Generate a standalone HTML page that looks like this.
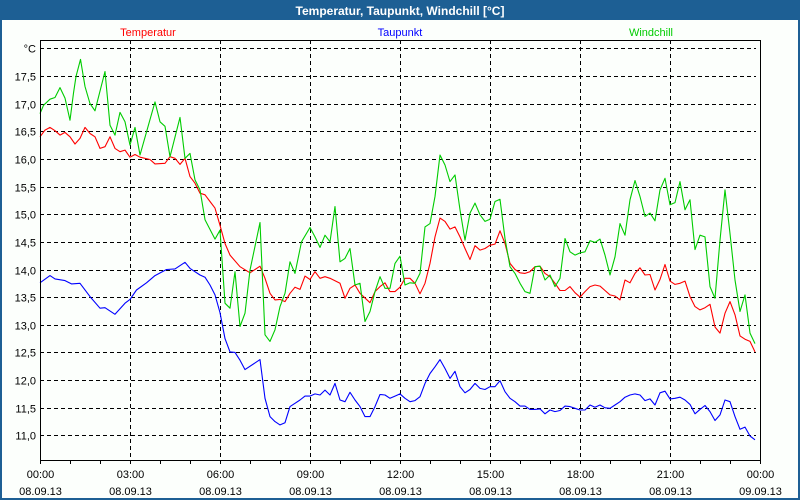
<!DOCTYPE html>
<html><head><meta charset="utf-8"><style>
html,body{margin:0;padding:0;background:#fff;}
#wrap{position:relative;width:800px;height:500px;overflow:hidden;background:#1d5f94;}
#inner{position:absolute;left:2px;top:20px;width:796px;height:478px;background:#fcfffc;}
svg{position:absolute;left:0;top:0;}
text{font-family:"Liberation Sans",sans-serif;}
</style></head><body>
<div id="wrap">
<div id="inner"></div>
<svg id="chart" width="800" height="500">
<text x="400" y="15" text-anchor="middle" font-size="12" font-weight="bold" fill="#fff">Temperatur, Taupunkt, Windchill [°C]</text>
<text x="148" y="36" text-anchor="middle" font-size="11" fill="#f00">Temperatur</text>
<text x="400" y="36" text-anchor="middle" font-size="11" fill="#00f">Taupunkt</text>
<text x="651" y="36" text-anchor="middle" font-size="11" fill="#0c0">Windchill</text>
<g id="grid"></g><g id="series"></g><g id="axes"></g>
</svg>
</div>
<script>
function range(a,b,s){const r=[];for(let v=a;v<=b+1e-9;v+=s)r.push(v);return r;}
const yTicks=[11.0,11.5,12.0,12.5,13.0,13.5,14.0,14.5,15.0,15.5,16.0,16.5,17.0,17.5];
const xTickHours=[0,3,6,9,12,15,18,21,24];
const xTickTimes=["00:00","03:00","06:00","09:00","12:00","15:00","18:00","21:00","00:00"];
const xTickDates=["08.09.13","08.09.13","08.09.13","08.09.13","08.09.13","08.09.13","08.09.13","08.09.13","09.09.13"];
// times in minutes since 00:00
const windTimes=[0,7,20,30,40,50,60,67,72,81,90,100,110,130,140,150,160,170,180,190,200,230,240,250,260,280,290,300,310,320,330,350,360,
370,380,390,400,410,420,440,450,460,470,480,490,500,510,523].concat(range(540,720,10),range(730,1080,10),range(1090,1430,10));
const windValues=[16.82,16.97,17.08,17.11,17.29,17.10,16.70,17.19,17.49,17.80,17.31,17.00,16.87,17.58,16.61,16.43,16.84,16.67,16.25,16.57,16.07,17.03,16.67,16.59,16.04,16.75,16.01,16.10,15.62,15.44,14.90,14.55,14.71,
13.39,13.30,13.96,12.97,13.21,13.99,14.85,12.82,12.70,12.91,13.33,13.57,14.14,13.93,14.50,
14.76,14.59,14.40,14.62,14.50,15.14,14.14,14.20,14.38,13.72,13.75,13.06,13.24,13.60,13.87,13.66,13.66,14.11,14.24,
13.72,13.76,13.75,13.93,14.77,14.83,15.32,16.07,15.89,15.59,15.71,15.08,14.53,15.02,15.20,14.99,14.87,14.91,15.23,15.27,14.56,14.05,13.93,13.75,13.60,13.57,14.05,14.06,13.81,13.90,13.69,13.84,14.56,14.32,14.26,14.30,
14.32,14.52,14.49,14.55,14.26,13.90,14.23,14.83,14.62,15.26,15.61,15.32,14.96,15.02,14.88,15.44,15.65,15.17,15.21,15.59,15.08,15.26,14.36,14.62,14.59,13.69,13.48,14.53,15.44,14.65,13.81,13.24,13.54,12.85,12.66];
const tempTimes=range(0,200,10).concat([220,230,250,260,270,280,290,300,310,320,330,340,350,360,
370,380,400,420,440,450,460,470,480,490,500,510,520,530,540,550,560,570,580,600,610,620,630,640,660,670,680,690,700,710,720],range(730,1080,10),range(1090,1430,10));
const tempValues=[16.40,16.52,16.57,16.51,16.43,16.48,16.40,16.27,16.37,16.57,16.46,16.40,16.19,16.22,16.40,16.19,16.13,16.16,16.03,16.08,16.03,
15.99,15.91,15.92,16.04,16.01,15.90,16.01,15.68,15.56,15.38,15.35,15.23,15.11,14.80,
14.47,14.26,14.05,13.94,14.06,13.84,13.57,13.45,13.46,13.42,13.57,13.68,13.64,13.88,13.82,13.96,13.84,13.87,13.84,13.75,13.48,13.66,13.72,13.57,13.40,13.60,13.69,13.76,13.60,13.60,13.68,
13.84,13.84,13.75,13.56,13.75,14.11,14.59,14.93,14.87,14.73,14.77,14.59,14.38,14.18,14.43,14.35,14.38,14.44,14.46,14.70,14.47,14.11,14.00,13.94,13.93,13.96,14.05,14.06,13.93,13.87,13.75,13.62,13.62,13.69,13.58,13.50,
13.60,13.69,13.72,13.70,13.62,13.54,13.52,13.45,13.81,13.76,13.93,14.03,13.90,13.91,13.63,13.82,14.09,13.79,13.73,13.75,13.79,13.51,13.33,13.27,13.31,13.37,12.96,12.85,13.21,13.42,13.18,12.80,12.74,12.70,12.51];
const dewTimes=[0,20,30,50,63,80,100,120,130,150,170,180,193,213,230,253,270,290,300,320,330,340,350,360,
370,380,390,400,410,440].concat(range(450,720,10),range(730,1080,10),range(1090,1430,10));
const dewValues=[13.76,13.89,13.83,13.80,13.74,13.75,13.51,13.30,13.31,13.19,13.39,13.46,13.63,13.76,13.89,14.00,14.01,14.13,14.02,13.90,13.86,13.72,13.54,13.22,
12.75,12.51,12.50,12.36,12.19,12.37,
11.67,11.34,11.25,11.19,11.23,11.52,11.58,11.64,11.71,11.71,11.75,11.73,11.82,11.73,11.94,11.64,11.61,11.78,11.64,11.52,11.34,11.34,11.52,11.74,11.73,11.67,11.71,11.75,
11.67,11.61,11.63,11.70,11.94,12.12,12.24,12.37,12.21,12.03,12.16,11.88,11.77,11.83,11.94,11.85,11.83,11.88,11.88,11.99,11.79,11.67,11.61,11.53,11.53,11.47,11.47,11.48,11.39,11.46,11.43,11.45,11.53,11.52,11.49,11.46,
11.46,11.55,11.51,11.55,11.50,11.49,11.55,11.61,11.69,11.73,11.75,11.73,11.63,11.66,11.55,11.77,11.80,11.66,11.67,11.69,11.64,11.56,11.39,11.47,11.54,11.43,11.27,11.37,11.64,11.61,11.34,11.11,11.15,10.99,10.92];

const L=40,R=760,T=40,B=460;
const xS=m=>L+(m/1440)*(R-L);
const yS=v=>48.3+(18-v)*55.3;
const NS='http://www.w3.org/2000/svg';
function mk(tag,attrs,parent){const e=document.createElementNS(NS,tag);for(const k in attrs)e.setAttribute(k,attrs[k]);parent.appendChild(e);return e;}
const grid=document.getElementById('grid'),ser=document.getElementById('series'),ax=document.getElementById('axes');
// horizontal grid + labels
yTicks.concat([18]).forEach(v=>{
  const y=Math.round(yS(v))+0.5;
  const ln=mk('line',{x1:L,x2:R-4,y1:y,y2:y,stroke:'#000','stroke-dasharray':'4,3','stroke-width':1},grid);
  
  
  const t=mk('text',{x:36,y:y+4,'text-anchor':'end','font-size':11,fill:'#000'},ax);
  t.textContent=v===18?'°C':v.toFixed(1).replace('.',',');
  
  
});
// vertical grid + x labels
xTickHours.forEach((h,i)=>{
  const x=Math.round(xS(h*60))+0.5;
  if(h>0&&h<24){
    const ln=mk('line',{x1:x,x2:x,y1:T,y2:B,stroke:'#000','stroke-dasharray':'4,3','stroke-width':1},grid);
    
    
  }
  const t1=mk('text',{x:x,y:478,'text-anchor':'middle','font-size':11,fill:'#000'},ax);
  t1.textContent=xTickTimes[i];
  
  
  const t2=mk('text',{x:x,y:495,'text-anchor':'middle','font-size':11,fill:'#000'},ax);
  t2.textContent=xTickDates[i];
  
  
});
for(let h=0;h<=24;h++){
  const x=Math.round(xS(h*60))+0.5;
  const tk=mk('line',{x1:x,x2:x,y1:B,y2:B+4,stroke:'#000'},ax);
  
  
}
const frame=mk('rect',{x:L+0.5,y:T+0.5,width:R-L,height:B-T,fill:'none',stroke:'#000','stroke-width':1},ax);


function line(times,vals,color,name){
  const d=times.map((m,i)=>(i?'L':'M')+xS(m).toFixed(1)+','+yS(vals[i]).toFixed(1)).join('');
  const p=mk('path',{d:d,fill:'none',stroke:color,'stroke-width':1.1,'stroke-linejoin':'round'},ser);
  
  
}
line(dewTimes,dewValues,'#0000ff','taupunkt-line');
line(tempTimes,tempValues,'#ff0000','temperatur-line');
line(windTimes,windValues,'#00cc00','windchill-line');
</script>
</body></html>
